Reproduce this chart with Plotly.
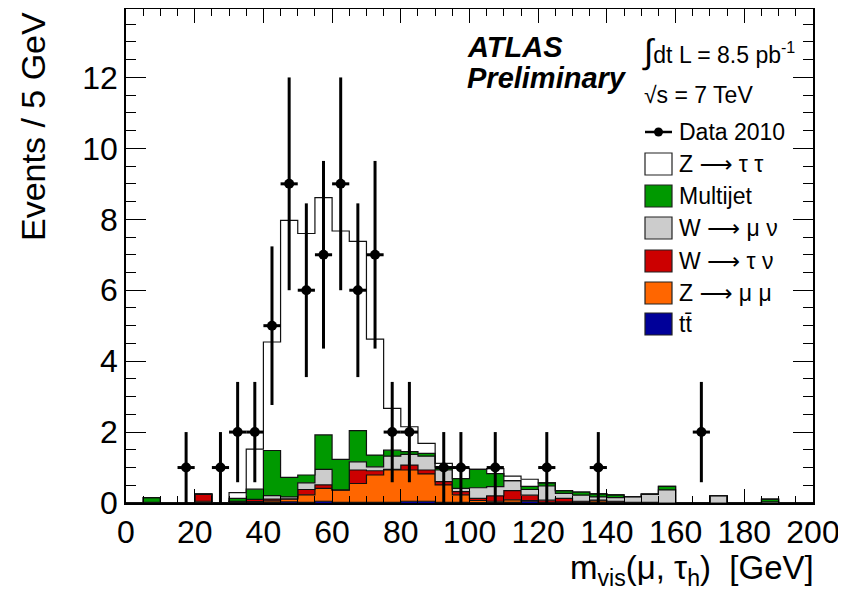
import plotly.graph_objects as go

# ---------------- data (5 GeV bins from 0 to 200 GeV) ----------------
bin_edges = [0, 5, 10, 15, 20, 25, 30, 35, 40, 45, 50, 55, 60, 65, 70, 75, 80, 85, 90, 95,
             100, 105, 110, 115, 120, 125, 130, 135, 140, 145, 150, 155, 160, 165, 170, 175,
             180, 185, 190, 195, 200]

data_2010 = [0, 0, 0, 1, 0, 1, 2, 2, 5, 9, 6, 7, 9, 6, 7, 2, 2, 0, 1, 1,
             0, 1, 0, 0, 1, 0, 0, 1, 0, 0, 0, 0, 0, 2, 0, 0, 0, 0, 0, 0]

ttbar = [0, 0, 0, 0, 0.02, 0, 0.02, 0.02, 0.02, 0.03, 0.02, 0.05, 0.02, 0.02, 0.02, 0.02, 0.05, 0.05, 0.02, 0.02,
         0.01, 0.01, 0.02, 0.05, 0.01, 0.01, 0.01, 0.01, 0.01, 0, 0, 0, 0, 0, 0, 0, 0, 0, 0, 0]

z_mumu = [0, 0, 0, 0, 0.03, 0.01, 0.03, 0.02, 0.04, 0.08, 0.21, 0.36, 0.35, 0.53, 0.77, 0.91, 0.88, 0.77, 0.49, 0.21,
          0.06, 0.04, 0.07, 0.02, 0.01, 0.02, 0.02, 0.05, 0.02, 0.01, 0.01, 0, 0, 0, 0, 0, 0, 0, 0, 0]

w_taunu = [0, 0, 0, 0, 0.20, 0, 0, 0.06, 0.05, 0.01, 0.15, 0.10, 0, 0.38, 0.12, 0.02, 0.14, 0.11, 0.09, 0.09,
           0.06, 0.15, 0.26, 0.15, 0.06, 0.10, 0.02, 0.02, 0.02, 0.01, 0.01, 0, 0, 0, 0, 0, 0, 0, 0, 0]

w_munu = [0, 0.02, 0, 0, 0, 0, 0, 0, 0.10, 0.05, 0.19, 0.44, 0, 0.23, 0.11, 0.37, 0.30, 0.39, 0.33, 0.09,
          0.30, 0.26, 0.28, 0.16, 0.40, 0.14, 0.17, 0.09, 0.10, 0.16, 0.23, 0.37, 0, 0.01, 0.21, 0, 0.01, 0.03, 0, 0]

multijet = [0, 0.13, 0, 0, 0, 0, 0.08, 0.29, 1.27, 0.55, 0.22, 0.97, 0.86, 0.88, 0.33, 0.17, 0.08, 0.08, 0.09, 0.28,
            0.52, 0.37, 0, 0.09, 0.09, 0.08, 0.09, 0.09, 0.08, 0, 0, 0.10, 0, 0, 0, 0, 0, 0.08, 0, 0]

z_tautau = [0, 0, 0, 0, 0, 0, 0.16, 1.13, 3.06, 7.25, 6.81, 6.69, 6.44, 5.34, 3.27, 1.18, 0.70, 0.28, 0.10, 0.29,
            0, 0.14, 0.13, 0.20, 0, 0, 0, 0, 0, 0, 0, 0, 0, 0, 0, 0, 0, 0, 0, 0]

ARROW = "<span style='font-family:DejaVu Sans'>\u27f6</span>"

# stack order bottom -> top, with legend labels and colours
stack = [
    ("tt\u0304", ttbar, "#000099"),
    ("Z " + ARROW + " \u03bc \u03bc", z_mumu, "#ff6600"),
    ("W " + ARROW + " \u03c4 \u03bd", w_taunu, "#cc0000"),
    ("W " + ARROW + " \u03bc \u03bd", w_munu, "#cccccc"),
    ("Multijet", multijet, "#009900"),
    ("Z " + ARROW + " \u03c4 \u03c4", z_tautau, "#ffffff"),
]

FONT = "Liberation Sans, Arial, Helvetica, sans-serif"

fig = go.Figure()

for name, vals, col in stack:
    fig.add_trace(go.Scatter(
        x=bin_edges, y=list(vals) + [vals[-1]],
        mode="lines", line=dict(shape="hv", color="#111111", width=1.2),
        stackgroup="mc", fillcolor=col, name=name, showlegend=False,
    ))

# data points (non-empty bins), sqrt(N) errors
dx, dy, de = [], [], []
for i, n in enumerate(data_2010):
    if n > 0:
        dx.append((bin_edges[i] + bin_edges[i + 1]) / 2)
        dy.append(n)
        de.append(n ** 0.5)

fig.add_trace(go.Scatter(
    x=dx, y=dy, mode="markers",
    marker=dict(color="black", size=10),
    error_y=dict(type="data", array=de, color="black", thickness=3, width=0),
    error_x=dict(type="constant", value=2.5, color="black", thickness=3, width=0),
    showlegend=False, name="Data 2010",
))

# ---------------- layout ----------------
# page has an 8 px body margin; figure is sized so it fits the 846x594 window
OFF = 8
W, H = 846 - OFF, 594 - OFF
L, R, T, B = 126 - OFF, 846 - 813, 9 - OFF, 594 - 503
pw, ph = W - L - R, H - T - B


def px(x):  # page pixel -> paper fraction
    return (x - OFF - L) / pw


def py(y):
    return (H - B - (y - OFF)) / ph


fig.update_layout(
    width=W, height=H,
    margin=dict(l=L, r=R, t=T, b=B, autoexpand=False),
    paper_bgcolor="white", plot_bgcolor="white",
    font=dict(family=FONT, color="black"),
    showlegend=False,
    xaxis=dict(range=[0, 200], dtick=20, tick0=0, ticks="inside", ticklen=14, tickwidth=1,
               tickcolor="black", showline=True, linecolor="black", linewidth=1.5,
               mirror="allticks", showgrid=False, zeroline=False, automargin=False,
               tickfont=dict(size=32, family=FONT),
               minor=dict(dtick=5, ticks="inside", ticklen=7, tickcolor="black", showgrid=False)),
    yaxis=dict(range=[0, 13.93], dtick=2, tick0=0, ticks="inside", ticklen=20, tickwidth=1,
               tickcolor="black", showline=True, linecolor="black", linewidth=1.5,
               mirror="allticks", showgrid=False, zeroline=False, automargin=False,
               tickfont=dict(size=32, family=FONT),
               minor=dict(dtick=0.5, ticks="inside", ticklen=10, tickcolor="black", showgrid=False)),
)

ann = []
# axis titles
ann.append(dict(text="Events / 5 GeV", x=px(33), y=py(127), xref="paper", yref="paper",
                textangle=-90, showarrow=False, xanchor="center", yanchor="middle",
                font=dict(size=34, family=FONT)))
ann.append(dict(text="m<sub>vis</sub>(\u03bc, \u03c4<sub>h</sub>)  [GeV]", x=px(816), y=py(570),
                xref="paper", yref="paper", showarrow=False, xanchor="right", yanchor="middle",
                font=dict(size=33, family=FONT)))
# ATLAS label
ann.append(dict(text="<b><i>ATLAS</i></b>", x=px(465), y=py(47), xref="paper", yref="paper",
                showarrow=False, xanchor="left", yanchor="middle", font=dict(size=29, family=FONT)))
ann.append(dict(text="<b><i>Preliminary</i></b>", x=px(465), y=py(78), xref="paper", yref="paper",
                showarrow=False, xanchor="left", yanchor="middle", font=dict(size=29, family=FONT)))
# luminosity / energy
ann.append(dict(text="<span style='font-size:34px'>\u222b</span>dt L = 8.5 pb<sup>-1</sup>",
                x=px(640), y=py(52), xref="paper", yref="paper",
                showarrow=False, xanchor="left", yanchor="middle", font=dict(size=23, family=FONT)))
ann.append(dict(text="\u221as = 7 TeV", x=px(642), y=py(95), xref="paper", yref="paper",
                showarrow=False, xanchor="left", yanchor="middle", font=dict(size=23, family=FONT)))

# manual legend
shapes = []
leg_rows = [("Data 2010", 132)] + [(name, yc) for (name, _, _), yc in
                                   zip(reversed(stack), [164, 196, 228, 261, 293, 324])]
colors = {name: col for name, _, col in stack}
for name, yc in leg_rows:
    ann.append(dict(text=name, x=px(677), y=py(yc), xref="paper", yref="paper", showarrow=False,
                    xanchor="left", yanchor="middle", font=dict(size=23, family=FONT)))
    if name == "Data 2010":
        shapes.append(dict(type="line", xref="paper", yref="paper", x0=px(645), x1=px(672),
                           y0=py(yc), y1=py(yc), line=dict(color="black", width=2.5)))
        shapes.append(dict(type="circle", xref="paper", yref="paper", x0=px(654), x1=px(663),
                           y0=py(yc + 4.5), y1=py(yc - 4.5), fillcolor="black", line=dict(color="black", width=0)))
    else:
        shapes.append(dict(type="rect", xref="paper", yref="paper", x0=px(645), x1=px(672),
                           y0=py(yc + 11), y1=py(yc - 11), fillcolor=colors[name],
                           line=dict(color="#222222", width=1.2)))

fig.update_layout(annotations=ann, shapes=shapes)

fig.write_html("out.html")
